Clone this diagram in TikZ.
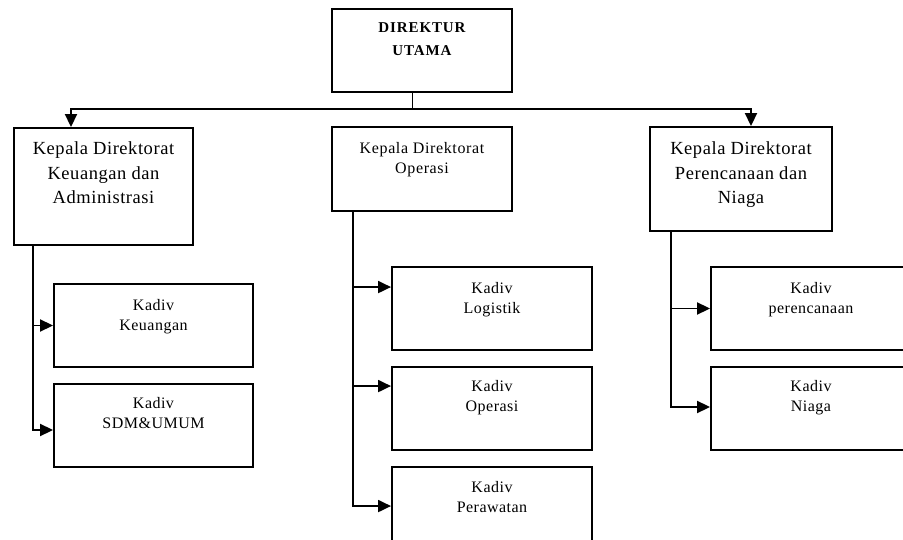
\documentclass[tikz,border=0pt]{standalone}
\usepackage{fontspec}
\setmainfont{Liberation Serif}
\usetikzlibrary{arrows.meta,calc}
\tikzset{
  box/.style={draw, line width=1.9pt, inner sep=0pt, minimum width=#1},
  box/.default=200pt,
  txt/.style={anchor=north, align=center, inner sep=0pt},
  headtxt/.style={txt, font=\fontsize{18.5}{24.5}\selectfont\addfontfeature{LetterSpace=3}},
  midtxt/.style={txt, font=\fontsize{16}{20}\selectfont\addfontfeature{LetterSpace=4}},
  kadivtxt/.style={txt, font=\fontsize{16}{19.5}\selectfont\addfontfeature{LetterSpace=3}},
  toptxt/.style={txt, font=\fontsize{15}{23}\selectfont\bfseries\addfontfeature{LetterSpace=6}},
  conn/.style={line width=1.9pt, -{Triangle[length=13pt,width=12pt]}},
  thinconn/.style={line width=0.9pt}
}
\begin{document}
\begin{tikzpicture}[x=1pt,y=-1pt]
\useasboundingbox (0,0) rectangle (903,540);
\clip (0,0) rectangle (903,540);
% boxes
\node[box=180pt, minimum height=83pt] (du) at (422,50.5) {};
\node[box=179pt, minimum height=117pt] (kdka) at (103.5,186.5) {};
\node[box=180pt, minimum height=84pt] (kdo) at (422,169) {};
\node[box=182pt, minimum height=104pt] (kdpn) at (741,179) {};
\node[box=199pt, minimum height=83pt] (kk) at (153.5,325.5) {};
\node[box=199pt, minimum height=83pt] (ks) at (153.5,425.5) {};
\node[box, minimum height=83pt] (kl) at (492,308.5) {};
\node[box, minimum height=83pt] (kop) at (492,408.5) {};
\node[box, minimum height=83pt] (kp) at (492,508.5) {};
\node[box, minimum height=83pt] (kpr) at (811,308.5) {};
\node[box, minimum height=83pt] (kn) at (811,408.5) {};
% texts
\node[toptxt] (tdu) at (422,22.5) {DIREKTUR\\UTAMA};
\node[headtxt] (tkdka) at (103.5,141.5) {Kepala Direktorat\\Keuangan dan\\Administrasi};
\node[midtxt] (tkdo) at (422,142.5) {Kepala Direktorat\\Operasi};
\node[headtxt] (tkdpn) at (741,141.5) {Kepala Direktorat\\Perencanaan dan\\Niaga};
\node[kadivtxt] (tkk) at (153.5,299.5) {Kadiv\\Keuangan};
\node[kadivtxt] (tks) at (153.5,397.5) {Kadiv\\SDM\&UMUM};
\node[kadivtxt] (tkl) at (492,282.5) {Kadiv\\Logistik};
\node[kadivtxt] (tkop) at (492,380.5) {Kadiv\\Operasi};
\node[kadivtxt] (tkp) at (492,481.5) {Kadiv\\Perawatan};
\node[kadivtxt] (tkpr) at (811,282.5) {Kadiv\\perencanaan};
\node[kadivtxt] (tkn) at (811,380.5) {Kadiv\\Niaga};
% connectors
\coordinate (j) at (412,109);
\draw[thinconn] ([xshift=-10pt]du.south) -- (j);
\draw[conn] (j) -| ([xshift=-32.5pt]kdka.north);
\draw[conn] (j) -| ([xshift=10pt]kdpn.north);
\draw[conn] ([xshift=-70.5pt]kdka.south) |- (kk.west);
\draw[conn] ([xshift=-70.5pt]kdka.south) |- ($(ks.west)+(0,4.5)$);
\draw[conn] ([xshift=-69pt]kdo.south) |- ($(kl.north west)+(0,21)$);
\draw[conn] ([xshift=-69pt]kdo.south) |- ($(kop.north west)+(0,20)$);
\draw[conn] ([xshift=-69pt]kdo.south) |- ($(kp.north west)+(0,40)$);
\draw[conn] ([xshift=-70pt]kdpn.south) |- (kpr.west);
\draw[conn] ([xshift=-70pt]kdpn.south) |- ($(kn.west)+(0,-1.5)$);
\end{tikzpicture}
\end{document}
